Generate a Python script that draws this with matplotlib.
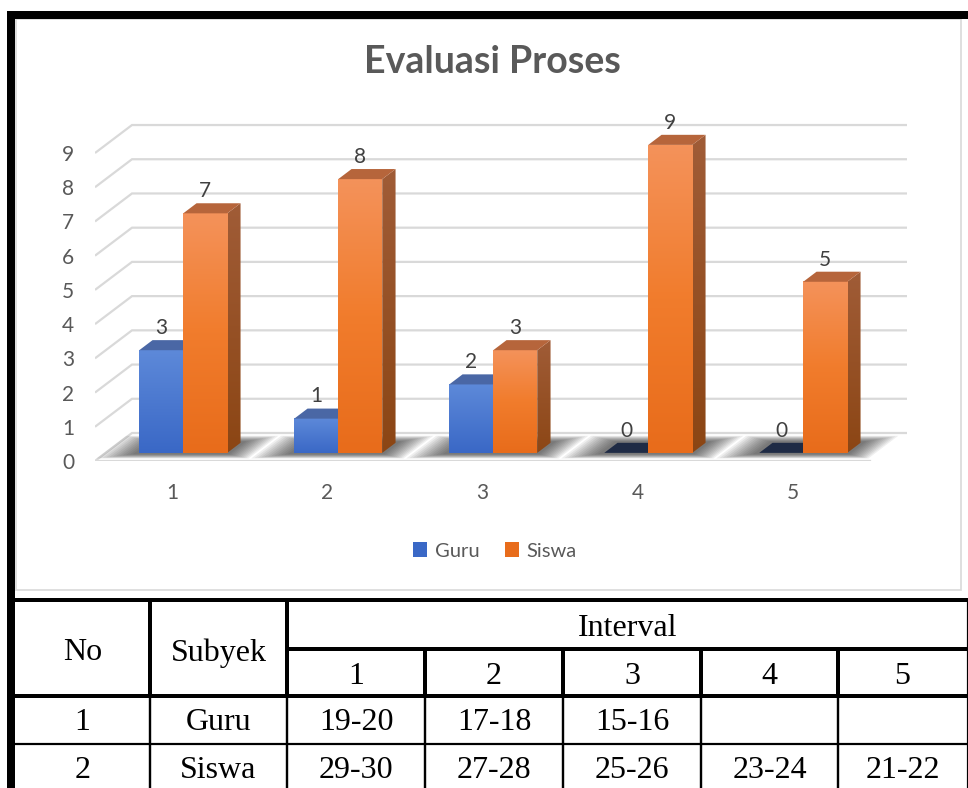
import numpy as np
import matplotlib
matplotlib.use('Agg')
import matplotlib.pyplot as plt
from matplotlib.patches import Polygon, Rectangle, Patch
from matplotlib.lines import Line2D
from matplotlib.colors import to_rgb

# ---------------- data ----------------
categories = ['1', '2', '3', '4', '5']
guru = [3, 1, 2, 0, 0]
siswa = [7, 8, 3, 9, 5]
series_names = ['Guru', 'Siswa']
y_ticks = list(range(10))
title = 'Evaluasi Proses'

table_head_left = ['No', 'Subyek']
table_head_group = 'Interval'
interval_cols = ['1', '2', '3', '4', '5']
table_rows = [['1', 'Guru', '19-20', '17-18', '15-16', '', ''],
              ['2', 'Siswa', '29-30', '27-28', '25-26', '23-24', '21-22']]

# ---------------- figure ----------------
W, H = 968, 788
fig = plt.figure(figsize=(W / 100, H / 100), dpi=100)
fig.patch.set_facecolor('white')


def fx(px):
    return px / W


def fy(py):
    return 1 - py / H


X0PX, UX = 95, 155.0
Y0PX, UY = 461, 34.22
xlim = (0.5, 5.8)
ylim = (0, 10.5)
ax = fig.add_axes([fx(X0PX), fy(Y0PX), (xlim[1] - xlim[0]) * UX / W,
                   (ylim[1] - ylim[0]) * UY / H])
ax.patch.set_visible(False)

DX = 37 / UX
DY = 28 / UY


def P(x, v, d):
    return (x + d * DX, v + d * DY)


grid_c = '#d9d9d9'
for v in y_ticks:
    pts = [P(0.5, v, 0), P(0.5, v, 1), P(5.5, v, 1)]
    ax.plot([p[0] for p in pts], [p[1] for p in pts], color=grid_c, lw=1.6,
            zorder=1, solid_capstyle='butt', solid_joinstyle='miter')
ax.plot([0.5, 5.5], [0, 0], color=grid_c, lw=1.6, zorder=1)

BW = 44 / UX
D0, D1 = 0.29, 0.65

blue_front = ['#5d89d9', '#3a68c6']
blue_top = '#4a67a5'
navy_zero = '#1f2b45'
orange_front = ['#f4925a', '#f17c2c', '#e86c1b']
orange_side = ['#a05c37', '#8b4513']
orange_top = '#b6653b'


def grad(colors, n=64):
    cs = np.array([to_rgb(c) for c in colors])
    t = np.linspace(0, 1, n)
    pos = np.linspace(0, 1, len(cs))
    arr = np.stack([np.interp(t, pos, cs[:, k]) for k in range(3)], axis=-1)
    return arr[:, None, :]


z = [3]


def nz():
    z[0] += 1
    return z[0]


def draw_shadow(x0, x1):
    n = 12
    for k in range(n):
        e = 1 - k / (n - 1)
        ex = 0.03 + 0.2 * e
        ed0 = 0.05 + 0.15 * e
        ed1 = 0.05 + 0.2 * e
        da, db = max(D0 - ed0, 0.0), min(D1 + ed1, 1.0)
        poly = [P(x0 - ex, 0, da), P(x1 + ex * 0.8, 0, da),
                P(x1 + ex * 0.8, 0, db), P(x0 - ex, 0, db)]
        ax.add_patch(Polygon(poly, closed=True, fc='#202020', ec='none',
                             alpha=0.07, zorder=2))


def draw_bar(x0, x1, v, front, top, side=None, zero_color=None):
    if v == 0:
        poly = [P(x0, 0, D0), P(x1, 0, D0), P(x1, 0, D1), P(x0, 0, D1)]
        ax.add_patch(Polygon(poly, closed=True, fc=zero_color, ec='none', zorder=nz()))
        return
    if side is not None:
        sp = [P(x1, 0, D0), P(x1, 0, D1), P(x1, v, D1), P(x1, v, D0)]
        zz = nz()
        poly = Polygon(sp, closed=True, fc='none', ec='none', zorder=zz)
        ax.add_patch(poly)
        im = ax.imshow(grad(side), extent=[x1 + D0 * DX, x1 + D1 * DX, 0, v + D1 * DY],
                       origin='upper', aspect='auto', interpolation='bilinear', zorder=zz)
        im.set_clip_path(poly)
    fx0, fx1 = P(x0, 0, D0)[0], P(x1, 0, D0)[0]
    ax.imshow(grad(front), extent=[fx0, fx1, D0 * DY, v + D0 * DY], origin='upper',
              aspect='auto', interpolation='bilinear', zorder=nz())
    tp = [P(x0, v, D0), P(x1, v, D0), P(x1, v, D1), P(x0, v, D1)]
    ax.add_patch(Polygon(tp, closed=True, fc=top, ec='none', zorder=nz()))


label_c = '#404040'
FS = 15
for i, cat in enumerate(categories):
    xc = i + 1
    draw_shadow(xc - BW, xc + BW)
    draw_bar(xc - BW, xc, guru[i], blue_front, blue_top, None, navy_zero)
    draw_bar(xc, xc + BW, siswa[i], orange_front, orange_top, orange_side)
    for (xa, xb, v) in [(xc - BW, xc, guru[i]), (xc, xc + BW, siswa[i])]:
        lx = (xa + xb) / 2 + D0 * DX
        ly = v + D1 * DY
        ax.annotate(str(v), (lx, ly), xytext=(0, 1.5), textcoords='offset points',
                    ha='center', va='bottom', fontsize=FS, color=label_c,
                    family='Lato', zorder=50)

ax.set_xlim(*xlim)
ax.set_ylim(*ylim)
ax.set_xticks(range(1, len(categories) + 1))
ax.set_xticklabels(categories)
ax.set_yticks(y_ticks)
ax.set_yticklabels([str(t) for t in y_ticks])
ax.tick_params(axis='both', length=0, labelsize=FS, labelcolor='#595959')
ax.tick_params(axis='x', pad=16)
ax.tick_params(axis='y', pad=15)
for lab in ax.get_xticklabels() + ax.get_yticklabels():
    lab.set_family('Lato')
for s in ax.spines.values():
    s.set_visible(False)

# title
fig.text(fx(492), fy(62), title, ha='center', va='center', fontsize=27,
         fontweight='bold', color='#595959', family='Lato')

# legend
handles = [Patch(fc=blue_front[1]), Patch(fc=orange_front[2])]
fig.legend(handles, series_names, loc='center', bbox_to_anchor=(fx(495), fy(551)),
           ncol=2, frameon=False, handlelength=0.7, handleheight=0.7,
           handletextpad=0.35, columnspacing=1.3, labelcolor='#595959',
           prop={'family': 'Lato', 'size': 14.5})

# chart area border
fig.add_artist(Rectangle((fx(16), fy(590)), fx(961) - fx(16), fy(19) - fy(590),
                         transform=fig.transFigure, fill=False, ec='#d9d9d9', lw=1.2))

# black frame
fig.add_artist(Rectangle((fx(7), fy(788)), fx(15) - fx(7), fy(11) - fy(788),
                         transform=fig.transFigure, fc='black', ec='none'))
fig.add_artist(Rectangle((fx(7), fy(19)), fx(968) - fx(7), fy(11) - fy(19),
                         transform=fig.transFigure, fc='black', ec='none'))


# table
def hline(y, x0, x1, w):
    fig.add_artist(Line2D([fx(x0), fx(x1)], [fy(y), fy(y)], transform=fig.transFigure,
                          color='black', lw=w * 0.72, solid_capstyle='butt'))


def vline(x, y0, y1, w):
    fig.add_artist(Line2D([fx(x), fx(x)], [fy(y0), fy(y1)], transform=fig.transFigure,
                          color='black', lw=w * 0.72, solid_capstyle='butt'))


col_x = [15, 150, 287, 425, 563, 701, 838, 967]
row_y = [600, 648.5, 696, 744, 792]
hline(row_y[0], 15, 968, 4)
hline(row_y[1], col_x[2], 968, 4)
hline(row_y[2], 15, 968, 4)
hline(row_y[3], 15, 968, 2.2)
vline(col_x[1], row_y[0], row_y[2], 4)
vline(col_x[2], row_y[0], row_y[2], 4)
for cx in col_x[3:7]:
    vline(cx, row_y[1], row_y[2], 4)
for cx in col_x[1:7]:
    vline(cx, row_y[2], 788, 2.4)
vline(col_x[7], row_y[0], 788, 1.2)

tf = dict(family='Liberation Serif', fontsize=23, color='black', ha='center', va='center')
for j, t in enumerate(table_head_left):
    fig.text(fx((col_x[j] + col_x[j + 1]) / 2), fy((row_y[0] + row_y[2]) / 2 + 5), t, **tf)
fig.text(fx((col_x[2] + 968) / 2), fy((row_y[0] + row_y[1]) / 2 + 4), table_head_group, **tf)
for j, t in enumerate(interval_cols):
    fig.text(fx((col_x[j + 2] + col_x[j + 3]) / 2), fy((row_y[1] + row_y[2]) / 2 + 4), t, **tf)
for r, row in enumerate(table_rows):
    for j, t in enumerate(row):
        if t:
            fig.text(fx((col_x[j] + col_x[j + 1]) / 2), fy((row_y[r + 2] + row_y[r + 3]) / 2 + 3),
                     t, **tf)

fig.savefig('out.png', dpi=100, facecolor='white')
